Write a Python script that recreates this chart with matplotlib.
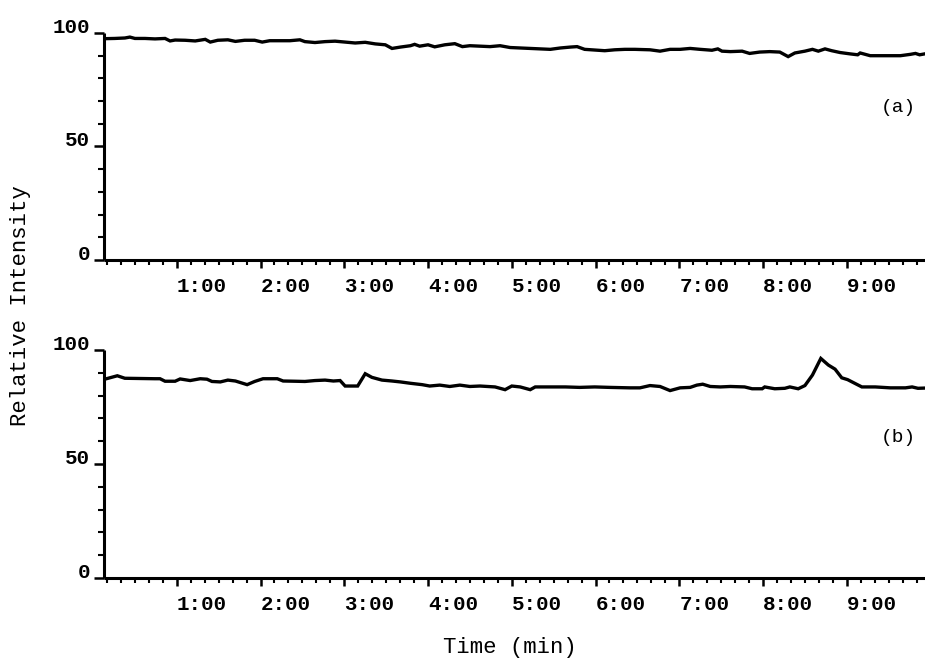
import matplotlib
matplotlib.use("Agg")
import matplotlib.pyplot as plt
from matplotlib.ticker import MultipleLocator, FixedLocator

# trace (a): time in minutes, relative intensity
time_a = [0.14, 0.26, 0.38, 0.44, 0.50, 0.62, 0.74, 0.86, 0.92, 0.98, 1.10, 1.22, 1.34, 1.40,
          1.49, 1.61, 1.70, 1.81, 1.93, 2.02, 2.11, 2.23, 2.35, 2.47, 2.53, 2.65, 2.77, 2.89,
          3.01, 3.13, 3.25, 3.37, 3.49, 3.57, 3.67, 3.79, 3.84, 3.90, 4.00, 4.08, 4.20, 4.32,
          4.41, 4.50, 4.62, 4.74, 4.86, 4.98, 5.10, 5.22, 5.34, 5.46, 5.58, 5.70, 5.78, 5.87,
          5.99, 6.11, 6.23, 6.35, 6.47, 6.65, 6.77, 6.89, 7.01, 7.13, 7.25, 7.39, 7.46, 7.51,
          7.61, 7.75, 7.84, 7.96, 8.08, 8.20, 8.30, 8.38, 8.50, 8.59, 8.66, 8.74, 8.82, 8.92,
          9.04, 9.13, 9.16, 9.28, 9.46, 9.64, 9.76, 9.82, 9.87, 9.93]
intensity_a = [97.5, 97.6, 97.8, 98.2, 97.6, 97.6, 97.4, 97.6, 96.5, 96.9, 96.8, 96.5, 97.2, 96.0,
               96.8, 97.0, 96.3, 96.8, 96.8, 96.0, 96.6, 96.6, 96.6, 97.0, 96.2, 95.8, 96.2, 96.4,
               96.0, 95.6, 95.9, 95.2, 94.8, 93.2, 93.8, 94.4, 95.0, 94.2, 94.8, 93.9, 94.8, 95.3,
               94.0, 94.4, 94.2, 94.0, 94.4, 93.6, 93.4, 93.2, 93.0, 92.8, 93.4, 93.8, 94.0, 92.8,
               92.5, 92.2, 92.6, 92.8, 92.8, 92.6, 92.0, 92.8, 92.8, 93.2, 92.8, 92.4, 93.0, 92.0,
               91.8, 92.0, 91.0, 91.6, 91.8, 91.6, 89.6, 91.2, 92.0, 92.8, 92.0, 93.0, 92.2, 91.4,
               90.8, 90.4, 91.2, 90.0, 90.0, 90.0, 90.6, 91.0, 90.4, 90.8]

# trace (b)
time_b = [0.14, 0.20, 0.29, 0.38, 0.56, 0.74, 0.80, 0.86, 0.98, 1.04, 1.16, 1.28, 1.36, 1.42,
          1.52, 1.61, 1.70, 1.84, 1.93, 2.03, 2.20, 2.27, 2.41, 2.53, 2.65, 2.77, 2.87, 2.95,
          3.01, 3.16, 3.25, 3.33, 3.45, 3.57, 3.67, 3.79, 3.93, 4.02, 4.14, 4.26, 4.38, 4.50,
          4.62, 4.80, 4.92, 5.00, 5.10, 5.22, 5.28, 5.46, 5.64, 5.81, 5.99, 6.17, 6.41, 6.53,
          6.65, 6.77, 6.89, 7.01, 7.13, 7.21, 7.28, 7.37, 7.49, 7.61, 7.78, 7.87, 7.99, 8.02,
          8.14, 8.26, 8.32, 8.42, 8.50, 8.59, 8.69, 8.78, 8.86, 8.94, 9.01, 9.10, 9.18, 9.34,
          9.52, 9.70, 9.78, 9.85, 9.93]
intensity_b = [87.2, 87.8, 88.7, 87.6, 87.5, 87.4, 87.4, 86.3, 86.3, 87.3, 86.6, 87.4, 87.2, 86.2,
               86.0, 86.8, 86.4, 84.8, 86.2, 87.4, 87.4, 86.4, 86.3, 86.2, 86.6, 86.8, 86.4, 86.6,
               84.2, 84.2, 89.6, 88.0, 86.8, 86.4, 86.0, 85.4, 84.8, 84.2, 84.6, 84.0, 84.6, 84.0,
               84.2, 83.8, 82.6, 84.2, 83.8, 82.6, 83.8, 83.8, 83.8, 83.6, 83.8, 83.6, 83.4, 83.4,
               84.4, 84.0, 82.2, 83.4, 83.6, 84.6, 85.0, 84.0, 83.8, 84.0, 83.8, 83.0, 83.0, 83.8,
               83.0, 83.2, 83.8, 83.0, 84.4, 89.0, 96.3, 93.4, 91.6, 87.8, 87.0, 85.3, 83.8, 83.8,
               83.4, 83.4, 83.8, 83.2, 83.3]

x_ticks = [1, 2, 3, 4, 5, 6, 7, 8, 9]
x_tick_labels = ["1:00", "2:00", "3:00", "4:00", "5:00", "6:00", "7:00", "8:00", "9:00"]
y_ticks = [0, 50, 100]
panel_labels = ["(a)", "(b)"]

MONO = "Liberation Mono"
W, H = 925, 662

fig = plt.figure(figsize=(9.25, 6.62), dpi=100)
fig.patch.set_facecolor("white")

# axes boxes in pixel coords: left, y of value 100, y of value 0
boxes = [(104, 33, 260), (104, 350, 578)]
traces = [(time_a, intensity_a), (time_b, intensity_b)]
label_y = [108, 438]

for (left, ytop, ybot), (tt, vv), lab, ly in zip(boxes, traces, panel_labels, label_y):
    ax = fig.add_axes([left / W, (H - ybot) / H, (W - left) / W, (ybot - ytop) / H])
    ax.plot(tt, vv, color="black", lw=2.4, solid_joinstyle="miter")
    ax.set_xlim(0.131, 9.934)
    ax.set_ylim(0, 100)
    for side in ["top", "right"]:
        ax.spines[side].set_visible(False)
    for side in ["left", "bottom"]:
        ax.spines[side].set_linewidth(2.2)
        ax.spines[side].set_capstyle("butt")

    ax.xaxis.set_major_locator(FixedLocator(x_ticks))
    ax.set_xticklabels(x_tick_labels, fontfamily=MONO, fontweight="bold", fontsize=15, ha="left")
    ax.xaxis.set_minor_locator(MultipleLocator(1 / 6))
    ax.tick_params(axis="x", which="major", direction="out", length=6, width=1.8, pad=6)
    ax.tick_params(axis="x", which="minor", direction="out", length=3.5, width=1.5)

    ax.set_yticks(y_ticks)
    ax.set_yticklabels([str(v) for v in y_ticks], fontfamily=MONO, fontweight="bold", fontsize=15,
                       va="baseline")
    ax.yaxis.set_minor_locator(MultipleLocator(10))
    ax.tick_params(axis="y", which="major", direction="out", length=7, width=1.8, pad=3)
    ax.tick_params(axis="y", which="minor", direction="out", length=4, width=1.5)

    ax.text(0.99, (H - ly) / H, lab, transform=fig.transFigure, ha="right", va="center",
            fontfamily=MONO, fontsize=14)

fig.text(21 / W, (H - 306) / H, "Relative Intensity", rotation=90, ha="center", va="center",
         fontfamily=MONO, fontsize=16)
fig.text(510 / W, (H - 647) / H, "Time (min)", ha="center", va="center",
         fontfamily=MONO, fontsize=16)

fig.savefig("out.png", dpi=100)
